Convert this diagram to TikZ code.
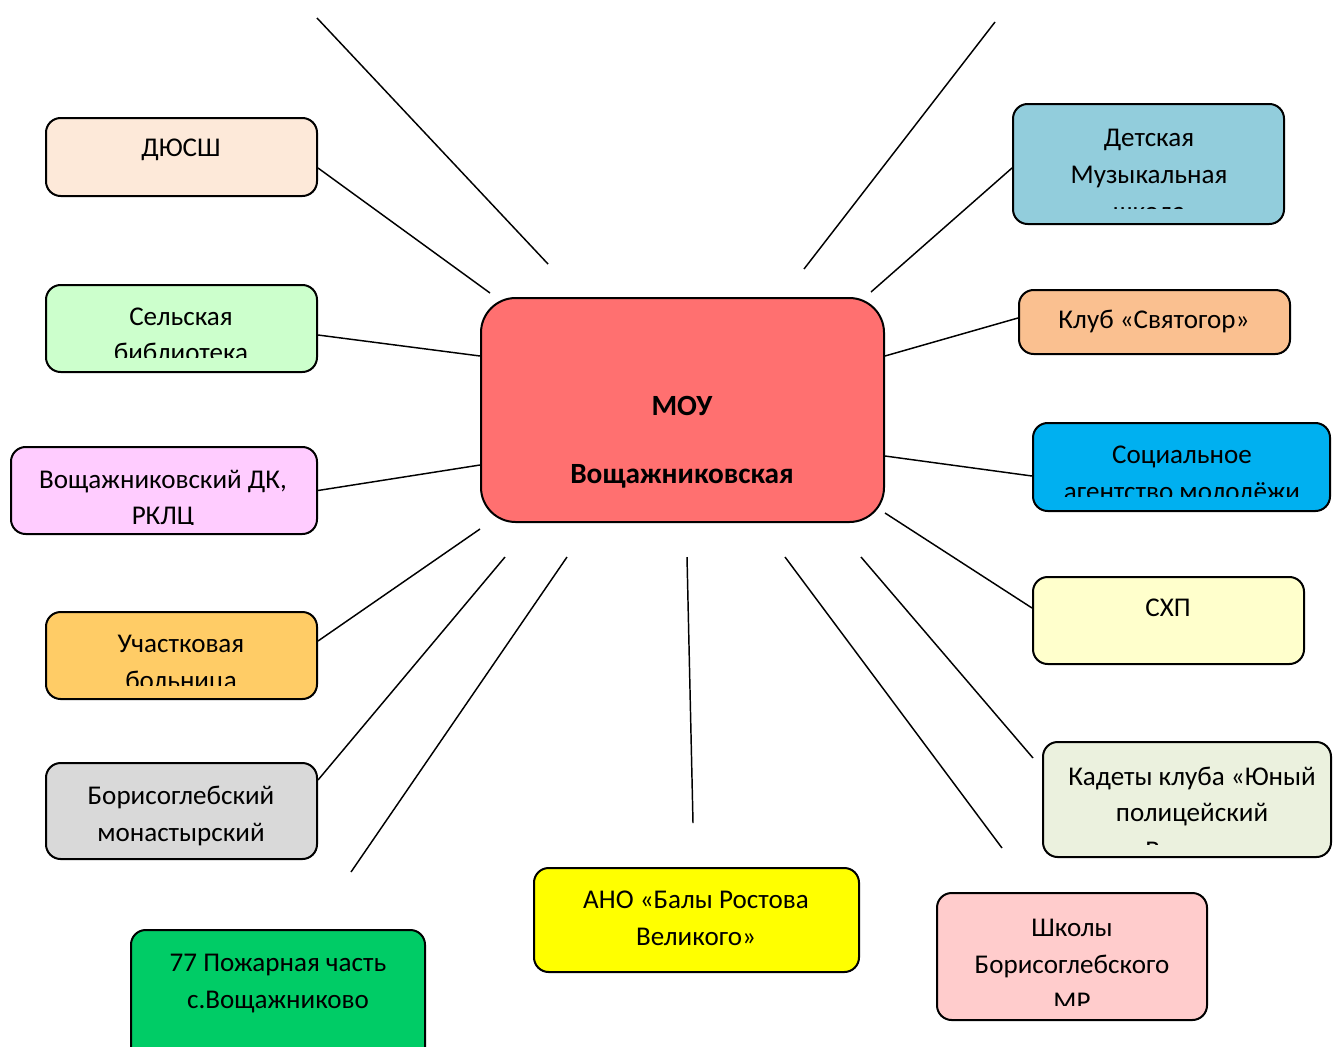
\documentclass[tikz,border=0pt]{standalone}
\usepackage{fontspec}
\setmainfont{Carlito}
\usetikzlibrary{fit,calc}
\definecolor{cDyussh}{HTML}{FDE9D9}
\definecolor{cSelsk}{HTML}{CCFFCC}
\definecolor{cDk}{HTML}{FFCCFF}
\definecolor{cUch}{HTML}{FFCC66}
\definecolor{cBor}{HTML}{D9D9D9}
\definecolor{cPozh}{HTML}{00CC66}
\definecolor{cAno}{HTML}{FFFF00}
\definecolor{cShk}{HTML}{FFCCCC}
\definecolor{cKad}{HTML}{EBF1DE}
\definecolor{cShp}{HTML}{FFFFCC}
\definecolor{cSoc}{HTML}{00B0F0}
\definecolor{cKlub}{HTML}{FAC090}
\definecolor{cDet}{HTML}{92CDDC}
\definecolor{cMoy}{HTML}{FF7070}
\begin{document}
\begin{tikzpicture}[x=0.75pt,y=-0.75pt,
  box/.style={draw=black, line width=1.5pt, rounded corners=11pt, inner sep=0pt},
  bigbox/.style={box, rounded corners=26pt},
  conn/.style={draw=black, line width=1.1pt},
  lbl/.style={anchor=base, inner sep=0pt, font=\fontsize{20.3}{24}\selectfont},
  blbl/.style={anchor=base, inner sep=0pt, font=\fontsize{22}{26}\selectfont\bfseries}]
\useasboundingbox (0,0) rectangle (1333,1046);

% boxes
\node[box, fill=cDyussh, fit={(46,118)(317,196)}] (dyussh) {};
\node[box, fill=cSelsk, fit={(46,285)(317,372)}] (selsk) {};
\node[box, fill=cDk, fit={(11,447)(317,534)}] (dk) {};
\node[box, fill=cUch, fit={(46,612)(317,699)}] (uch) {};
\node[box, fill=cBor, fit={(46,763)(317,859)}] (bor) {};
\node[box, fill=cPozh, fit={(131,930)(425,1075)}] (pozh) {};
\node[box, fill=cAno, fit={(534,868)(859,972)}] (ano) {};
\node[box, fill=cShk, fit={(937,893)(1207,1020)}] (shk) {};
\node[box, fill=cKad, fit={(1043,742)(1331,857)}] (kad) {};
\node[box, fill=cShp, fit={(1033,577)(1304,664)}] (shp) {};
\node[box, fill=cSoc, fit={(1033,423)(1330,511)}] (soc) {};
\node[box, fill=cKlub, fit={(1019,290)(1290,354)}] (klub) {};
\node[box, fill=cDet, fit={(1013,104)(1284,224)}] (det) {};
\node[bigbox, fill=cMoy, fit={(481,298)(884,522)}] (moy) {};

% free ends
\coordinate (f1) at (317,18);
\coordinate (f2) at (995,22);
\coordinate (f3) at (351,872);
\coordinate (f4) at (693,823);
\coordinate (f5) at (1002,848);
\coordinate (f6) at (1033,758);

% connectors
\draw[conn] (f1) -- ($(moy.north west)+(68,-33)$);
\draw[conn] (f2) -- ($(moy.north east)+(-81,-28)$);
\draw[conn] ($(dyussh.east)+(0,11)$) -- ($(moy.north west)+(10,-4)$);
\draw[conn] ($(selsk.east)+(0,6.5)$) -- ($(moy.north west)+(0,59)$);
\draw[conn] (dk.east) -- ($(moy.north west)+(0,168)$);
\draw[conn] ($(uch.east)+(0,-14.5)$) -- ($(moy.south west)+(0,6)$);
\draw[conn] ($(bor.east)+(0,-31)$) -- ($(moy.south west)+(25,34)$);
\draw[conn] (f3) -- ($(moy.south west)+(87,34)$);
\draw[conn] (f4) -- ($(moy.south west)+(207,34)$);
\draw[conn] (f5) -- ($(moy.south east)+(-100,34)$);
\draw[conn] (f6) -- ($(moy.south east)+(-24,34)$);
\draw[conn] ($(shp.west)+(0,-12.5)$) -- ($(moy.south east)+(0,-10)$);
\draw[conn] ($(soc.west)+(0,9)$) -- ($(moy.north east)+(0,159)$);
\draw[conn] ($(klub.west)+(0,-4)$) -- ($(moy.north east)+(0,59)$);
\draw[conn] ($(det.west)+(0,4)$) -- ($(moy.north east)+(-14,-5)$);

% texts
\node[lbl] (t1) at (181,156) {ДЮСШ};
\begin{scope}
  \clip (46,285) rectangle (317,357);
  \node[lbl] (t2a) at (181,325) {Сельская};
  \node[lbl] (t2b) at (181,361) {библиотека};
\end{scope}
\begin{scope}
  \clip (11,447) rectangle (317,524.5);
  \node[lbl] (t3a) at (163,488) {Вощажниковский ДК,};
  \node[lbl] (t3b) at (163,524) {РКЛЦ};
\end{scope}
\begin{scope}
  \clip (46,612) rectangle (317,685.5);
  \node[lbl] (t4a) at (181,652.5) {Участковая};
  \node[lbl] (t4b) at (181,689) {больница};
\end{scope}
\node[lbl] (t5a) at (181,804) {Борисоглебский};
\node[lbl] (t5b) at (181,841) {монастырский};
\node[lbl] (t6a) at (278,971.5) {77 Пожарная часть};
\node[lbl] (t6b) at (278,1008.5) {с.Вощажниково};
\node[lbl] (t7a) at (696,908) {АНО «Балы Ростова};
\node[lbl] (t7b) at (696,945.5) {Великого»};
\begin{scope}
  \clip (937,893) rectangle (1207,1005.5);
  \node[lbl] (t8a) at (1072,936) {Школы};
  \node[lbl] (t8b) at (1072,973) {Борисоглебского};
  \node[lbl] (t8c) at (1072,1010) {МР};
\end{scope}
\begin{scope}
  \clip (1043,742) rectangle (1331,844.5);
  \node[lbl] (t9a) at (1192,785) {Кадеты клуба «Юный};
  \node[lbl] (t9b) at (1192,821) {полицейский};
  \node[lbl, anchor=base west] (t9c) at (1145,859) {В};
\end{scope}
\node[lbl] (t10) at (1168,616.5) {СХП};
\begin{scope}
  \clip (1033,423) rectangle (1330,496);
  \node[lbl] (t11a) at (1182,463) {Социальное};
  \node[lbl] (t11b) at (1182,500) {агентство молодёжи};
\end{scope}
\node[lbl] (t12) at (1154,328) {Клуб «Святогор»};
\begin{scope}
  \clip (1013,104) rectangle (1284,208);
  \node[lbl] (t13a) at (1149,146.5) {Детская};
  \node[lbl] (t13b) at (1149,183.5) {Музыкальная};
  \node[lbl] (t13c) at (1149,220.5) {школа};
\end{scope}
\node[blbl] (m1) at (682,415.5) {МОУ};
\node[blbl] (m2) at (682,483) {Вощажниковская};
\end{tikzpicture}
\end{document}
